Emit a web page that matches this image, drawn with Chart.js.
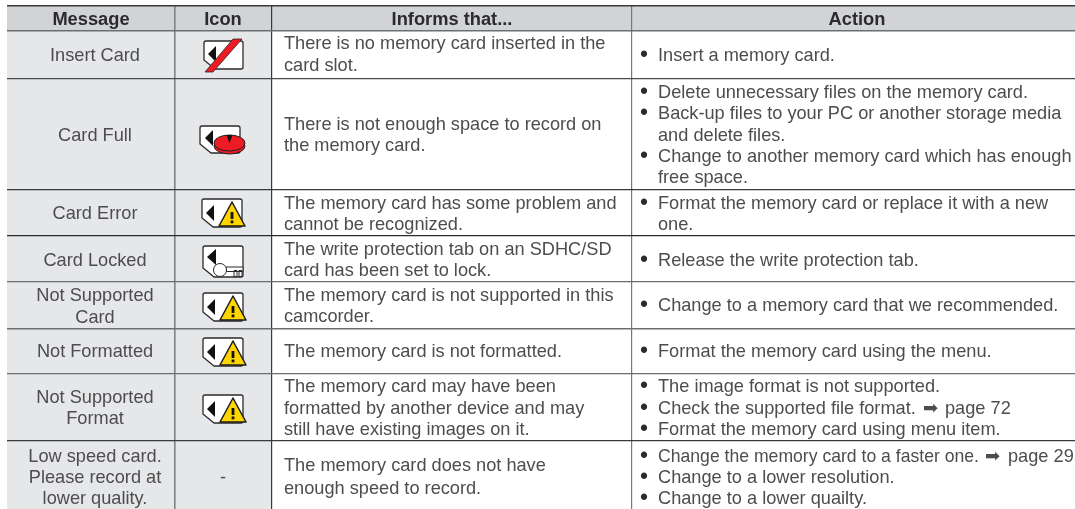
<!DOCTYPE html>
<html>
<head>
<meta charset="utf-8">
<script src="https://cdn.jsdelivr.net/npm/chart.js@4"></script>
<style>
  html, body { margin: 0; padding: 0; background: #fff; }
  canvas { display: block; }
</style>
</head>
<body>
<canvas id="myChart" width="1075" height="509"></canvas>
<script>
// table grid, in the units of the two axes
const colEdges = [7, 175, 272, 632, 1075];
const colColors = ["rgba(0,0,0,0)", "#808285", "#3a3a3c", "#77787b", "rgba(0,0,0,0)"];
const colWidths = [0, 1.6, 1.2, 1.2, 0];
const rowEdges = [6, 31, 79, 190, 236, 282, 329, 374, 441, 509];
const rowColors = ["#3a3a3c", "#6d6e71", "#4a4a4c", "#3a3a3c", "#2c2c2e", "#6d6e71", "#6d6e71", "#6d6e71", "#3a3a3c", "rgba(0,0,0,0)"];
const rowWidths = [1.5, 1.4, 1.2, 1.2, 1.2, 1.2, 1.5, 1.2, 1.2, 0];

const headerLabels = ["Message", "Icon", "Informs that...", "Action"];
const headerX = [91, 223, 452, 857];
const headerY = 19;

const messageX = 95;
const messageLines = ["Insert Card", "Card Full", "Card Error", "Card Locked", "Not Supported", "Card", "Not Formatted", "Not Supported", "Format", "Low speed card.", "Please record at", "lower quality."];
const messageY = [55, 135, 213, 260, 295, 317, 351, 397, 418, 456, 477, 498];

const informsX = 284;
const informsLines = [
  "There is no memory card inserted in the", "card slot.",
  "There is not enough space to record on", "the memory card.",
  "The memory card has some problem and", "cannot be recognized.",
  "The write protection tab on an SDHC/SD", "card has been set to lock.",
  "The memory card is not supported in this", "camcorder.",
  "The memory card is not formatted.",
  "The memory card may have been", "formatted by another device and may", "still have existing images on it.",
  "The memory card does not have", "enough speed to record."
];
const informsY = [43, 65, 124, 145, 203, 224, 249, 270, 295, 316, 351, 386, 408, 429, 465, 488];

const bulletX = 644;
const actionX = 658;
const actionLines = [
  "Insert a memory card.",
  "Delete unnecessary files on the memory card.",
  "Back-up files to your PC or another storage media", "and delete files.",
  "Change to another memory card which has enough", "free space.",
  "Format the memory card or replace it with a new", "one.",
  "Release the write protection tab.",
  "Change to a memory card that we recommended.",
  "Format the memory card using the menu.",
  "The image format is not supported.",
  "Check the supported file format. \u27A1 page 72",
  "Format the memory card using menu item.",
  "Change the memory card to a faster one. \u27A1 page 29",
  "Change to a lower resolution.",
  "Change to a lower quailty."
];
const actionY = [55, 92, 113, 135, 156, 177, 203, 224, 260, 305, 351, 386, 408, 429, 456, 477, 498];
const actionBullet = [1, 1, 1, 0, 1, 0, 1, 0, 1, 1, 1, 1, 1, 1, 1, 1, 1];
// where the page arrow sits on the two lines that have one, and where "page" starts
const arrowStartX = [923, 985];
const pageStartX = [945, 1008];

const iconKinds = ["noCard", "full", "warn", "lock", "warn", "warn", "warn"];
const iconX = [223, 220, 223, 223, 224, 224, 224];
const iconY = [55, 140, 213, 261, 307, 352, 409];
const dashX = 223;
const dashY = 477;

const textFont = '18.2px "Liberation Sans", "DejaVu Sans", sans-serif';
const headFont = 'bold 18.3px "Liberation Sans", sans-serif';
const arrowFont = '18px "DejaVu Sans", sans-serif';
const bulletFont = '23px "Liberation Sans", sans-serif';
const textColor = "#4d4d4f";
const headColor = "#2b2b2d";
const ARROW = "\u27A1";

function cardPath(ctx, l, t, r, b) {
  ctx.beginPath();
  ctx.moveTo(l + 2, t);
  ctx.lineTo(r - 2, t);
  ctx.quadraticCurveTo(r, t, r, t + 2);
  ctx.lineTo(r, b - 2);
  ctx.quadraticCurveTo(r, b, r - 2, b);
  ctx.lineTo(l + 11, b);
  ctx.lineTo(l, b - 9);
  ctx.lineTo(l, t + 2);
  ctx.quadraticCurveTo(l, t, l + 2, t);
  ctx.closePath();
  ctx.fillStyle = "#fff";
  ctx.fill();
  ctx.strokeStyle = "#2b2b2d";
  ctx.lineWidth = 1.3;
  ctx.stroke();
}

function arrowHead(ctx, tipX, tipY, baseX, half) {
  ctx.beginPath();
  ctx.moveTo(tipX, tipY);
  ctx.lineTo(baseX, tipY - half);
  ctx.lineTo(baseX, tipY + half);
  ctx.closePath();
  ctx.fillStyle = "#111";
  ctx.fill();
}

function makeIcon(kind) {
  const c = document.createElement("canvas");
  c.width = 64;
  c.height = 48;
  const ctx = c.getContext("2d");
  ctx.translate(32, 24);
  ctx.lineJoin = "round";
  if (kind === "noCard") {
    cardPath(ctx, -19, -14, 20, 14);
    arrowHead(ctx, -15, -1, -7, 8);
    ctx.beginPath();
    ctx.moveTo(10, -16);
    ctx.lineTo(19, -16);
    ctx.lineTo(-10, 17);
    ctx.lineTo(-18, 17);
    ctx.closePath();
    ctx.fillStyle = "#ed1c24";
    ctx.fill();
    ctx.strokeStyle = "#2b2b2d";
    ctx.lineWidth = 0.8;
    ctx.stroke();
  } else if (kind === "full") {
    cardPath(ctx, -20, -14, 20, 13);
    arrowHead(ctx, -15, -2, -7, 8);
    ctx.strokeStyle = "#222";
    ctx.lineWidth = 1;
    ctx.fillStyle = "#ed1c24";
    ctx.beginPath();
    ctx.ellipse(9.5, 6, 15.5, 8, 0, 0, Math.PI * 2);
    ctx.fill();
    ctx.stroke();
    ctx.beginPath();
    ctx.ellipse(9.5, 3, 15.5, 8, 0, 0, Math.PI * 2);
    ctx.fill();
    ctx.stroke();
    ctx.beginPath();
    ctx.moveTo(6.5, -5);
    ctx.lineTo(12.5, -5);
    ctx.lineTo(9.5, 3);
    ctx.closePath();
    ctx.fillStyle = "#111";
    ctx.fill();
  } else if (kind === "warn") {
    cardPath(ctx, -21, -14, 19, 14);
    arrowHead(ctx, -17, 0, -9, 8);
    ctx.beginPath();
    ctx.moveTo(9, -11);
    ctx.lineTo(22, 13);
    ctx.lineTo(-4, 13);
    ctx.closePath();
    ctx.fillStyle = "#ffd500";
    ctx.strokeStyle = "#1c1c1c";
    ctx.lineWidth = 1.5;
    ctx.fill();
    ctx.stroke();
    ctx.fillStyle = "#111";
    ctx.fillRect(7.6, -1, 2.8, 7);
    ctx.fillRect(7.6, 7.5, 2.8, 2.8);
  } else if (kind === "lock") {
    cardPath(ctx, -20, -15, 20, 16);
    arrowHead(ctx, -16, -4, -7, 8);
    ctx.strokeStyle = "#2b2b2d";
    ctx.lineWidth = 1;
    ctx.fillStyle = "#fff";
    ctx.beginPath();
    ctx.rect(3, 6, 17, 4.5);
    ctx.fill();
    ctx.stroke();
    ctx.fillRect(4, 7, 5, 2.5);
    ctx.strokeRect(11, 9.5, 3, 6);
    ctx.strokeRect(16, 9.5, 3, 6);
    ctx.beginPath();
    ctx.arc(-3, 9, 6.5, 0, Math.PI * 2);
    ctx.fill();
    ctx.stroke();
  }
  return c;
}

const tablePoints = (edges, y) => edges.map((x) => ({ x, y }));

// axes are the table rules, text goes on top through the scales
const tableText = {
  id: "tableText",
  afterDatasetsDraw(chart) {
    const { ctx, scales: { x, y } } = chart;
    const yPx = (v) => y.getPixelForValue(v) + 1;
    let arrowCount = 0;

    // lines with the page arrow are laid out in three pieces
    const drawActionLine = (line, px, py) => {
      if (!line.includes(ARROW)) {
        ctx.fillText(line, px, py);
        return;
      }
      const [before, after] = line.split(ARROW).map((s) => s.trim());
      const arrowPx = x.getPixelForValue(arrowStartX[arrowCount]);
      ctx.fillText(before, px, py, arrowPx - 6 - px);
      ctx.font = arrowFont;
      ctx.fillText(ARROW, arrowPx, py);
      ctx.font = textFont;
      ctx.fillText(after, x.getPixelForValue(pageStartX[arrowCount]), py);
      arrowCount++;
    };

    ctx.save();
    ctx.textBaseline = "middle";
    ctx.textAlign = "center";
    ctx.font = headFont;
    ctx.fillStyle = headColor;
    headerLabels.forEach((label, i) => ctx.fillText(label, x.getPixelForValue(headerX[i]), yPx(headerY)));
    ctx.font = textFont;
    ctx.fillStyle = textColor;
    messageLines.forEach((line, i) => ctx.fillText(line, x.getPixelForValue(messageX), yPx(messageY[i])));
    ctx.fillText("-", x.getPixelForValue(dashX), yPx(dashY));
    ctx.textAlign = "left";
    informsLines.forEach((line, i) => ctx.fillText(line, x.getPixelForValue(informsX), yPx(informsY[i])));
    actionLines.forEach((line, i) => {
      const py = yPx(actionY[i]);
      drawActionLine(line, x.getPixelForValue(actionX), py);
      if (actionBullet[i]) {
        ctx.font = bulletFont;
        ctx.fillStyle = "#2b2b2d";
        ctx.textAlign = "center";
        ctx.fillText("\u2022", x.getPixelForValue(bulletX), py);
        ctx.textAlign = "left";
        ctx.fillStyle = textColor;
        ctx.font = textFont;
      }
    });
    ctx.restore();
  },
};

const canvas = document.getElementById("myChart");

new Chart(canvas, {
  type: "scatter",
  data: {
    datasets: [
      // first dataset is drawn last, icons have to sit over the cell fills
      {
        data: iconKinds.map((kind, i) => ({ x: iconX[i], y: iconY[i] })),
        pointStyle: iconKinds.map(makeIcon),
        pointRadius: 10,
        clip: false,
      },
      {
        data: tablePoints([colEdges[0], colEdges[4]], rowEdges[0]),
        showLine: true,
        borderWidth: 0,
        pointRadius: 0,
        fill: { value: rowEdges[1] },
        backgroundColor: "#d1d3d4",
      },
      {
        data: tablePoints([colEdges[0], colEdges[2]], rowEdges[1]),
        showLine: true,
        borderWidth: 0,
        pointRadius: 0,
        fill: { value: rowEdges[9] },
        backgroundColor: "#e6e7e8",
      },
    ],
  },
  options: {
    responsive: false,
    animation: false,
    events: [],
    layout: { autoPadding: false, padding: { left: colEdges[0], top: rowEdges[0], right: 0, bottom: 0 } },
    plugins: { legend: { display: false }, tooltip: { enabled: false } },
    scales: {
      x: {
        type: "linear",
        min: colEdges[0],
        max: colEdges[4],
        afterBuildTicks: (scale) => { scale.ticks = colEdges.map((value) => ({ value })); },
        ticks: { display: false, autoSkip: false },
        border: { display: false },
        grid: {
          z: 1,
          drawTicks: false,
          color: (c) => colColors[c.index],
          lineWidth: (c) => colWidths[c.index],
        },
      },
      y: {
        type: "linear",
        reverse: true,
        min: rowEdges[0],
        max: rowEdges[9],
        afterBuildTicks: (scale) => { scale.ticks = rowEdges.map((value) => ({ value })); },
        ticks: { display: false, autoSkip: false },
        border: { display: false },
        grid: {
          z: 1,
          drawTicks: false,
          color: (c) => rowColors[c.index],
          lineWidth: (c) => rowWidths[c.index],
        },
      },
    },
  },
  plugins: [tableText],
});
</script>
</body>
</html>
